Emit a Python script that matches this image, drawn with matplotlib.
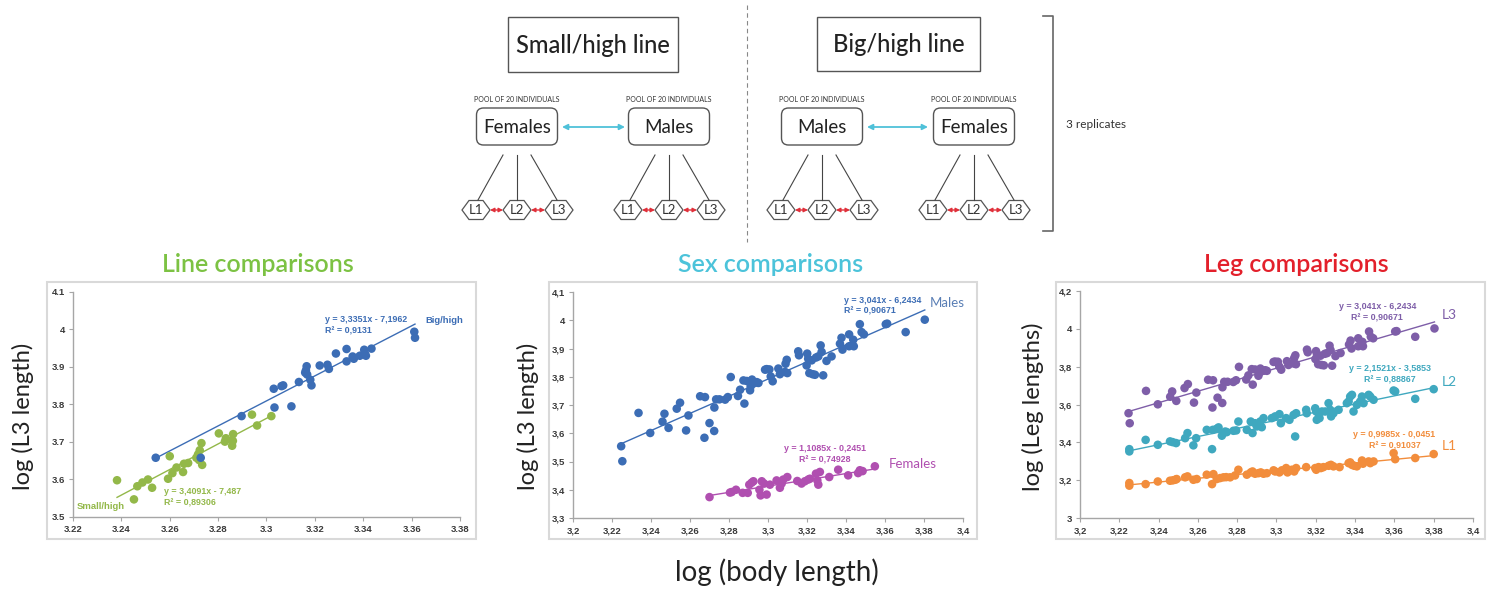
import numpy as np
import matplotlib
matplotlib.use('Agg')
import matplotlib.pyplot as plt
from matplotlib.patches import Rectangle, FancyBboxPatch, Polygon

plt.rcParams['font.family'] = ['Lato', 'DejaVu Sans']
SMALL_FONT = ['Liberation Sans', 'DejaVu Sans']

W, H = 1496, 593

# ---- Line comparisons: log body length vs log L3 length ----
big_x = [3.2542, 3.2728, 3.2897, 3.3030, 3.3033, 3.3062, 3.3069, 3.3103, 3.3134, 3.3166,
         3.3163, 3.3160, 3.3168, 3.3181, 3.3186, 3.3220, 3.3252, 3.3258, 3.3287, 3.3331,
         3.3331, 3.3356, 3.3361, 3.3386, 3.3404, 3.3407, 3.3411, 3.3434, 3.3611, 3.3614]
big_y = [3.658, 3.658, 3.769, 3.842, 3.792, 3.849, 3.851, 3.795, 3.860, 3.902,
         3.891, 3.885, 3.880, 3.866, 3.851, 3.904, 3.906, 3.895, 3.936, 3.948,
         3.915, 3.928, 3.922, 3.930, 3.946, 3.936, 3.930, 3.949, 3.994, 3.978]
small_x = [3.2382, 3.2452, 3.2466, 3.2487, 3.2510, 3.2527, 3.2593, 3.2600, 3.2611, 3.2628,
           3.2655, 3.2659, 3.2676, 3.2710, 3.2717, 3.2724, 3.2721, 3.2731, 3.2734, 3.2803,
           3.2828, 3.2832, 3.2858, 3.2861, 3.2862, 3.2940, 3.2961, 3.3020]
small_y = [3.598, 3.547, 3.582, 3.592, 3.600, 3.578, 3.602, 3.662, 3.617, 3.632,
           3.620, 3.642, 3.644, 3.658, 3.667, 3.678, 3.652, 3.697, 3.639, 3.723,
           3.701, 3.710, 3.690, 3.703, 3.721, 3.773, 3.744, 3.769]
big_fit = [3.3351, -7.1962]
small_fit = [3.4091, -7.487]

# ---- Sex comparisons ----
males_x = [3.2247, 3.2253, 3.2336, 3.2396, 3.2459, 3.2469, 3.2490, 3.2532, 3.2549, 3.2580,
           3.2592, 3.2652, 3.2674, 3.2677, 3.2700, 3.2724, 3.2725, 3.2734, 3.2751, 3.2780,
           3.2794, 3.2809, 3.2846, 3.2857, 3.2879, 3.2874, 3.2891, 3.2908, 3.2911, 3.2918,
           3.2925, 3.2933, 3.2942, 3.2951, 3.2985, 3.2993, 3.3007, 3.3014, 3.3024, 3.3053,
           3.3061, 3.3087, 3.3090, 3.3096, 3.3099, 3.3155, 3.3159, 3.3198, 3.3201, 3.3206,
           3.3212, 3.3224, 3.3229, 3.3241, 3.3246, 3.3258, 3.3270, 3.3275, 3.3283, 3.3300,
           3.3326, 3.3369, 3.3377, 3.3382, 3.3416, 3.3416, 3.3437, 3.3440, 3.3471, 3.3480,
           3.3492, 3.3604, 3.3611, 3.3706, 3.3804]
males_y = [3.554, 3.501, 3.672, 3.601, 3.641, 3.669, 3.619, 3.687, 3.708, 3.610,
           3.663, 3.731, 3.584, 3.728, 3.636, 3.608, 3.691, 3.720, 3.720, 3.719,
           3.728, 3.799, 3.732, 3.754, 3.705, 3.787, 3.785, 3.752, 3.766, 3.790,
           3.776, 3.779, 3.781, 3.778, 3.825, 3.827, 3.826, 3.801, 3.784, 3.829,
           3.809, 3.817, 3.846, 3.860, 3.813, 3.890, 3.876, 3.840, 3.882, 3.864,
           3.813, 3.858, 3.809, 3.807, 3.868, 3.872, 3.911, 3.888, 3.805, 3.856,
           3.872, 3.917, 3.938, 3.896, 3.950, 3.908, 3.931, 3.908, 3.986, 3.958,
           3.950, 3.986, 3.988, 3.958, 4.002]
females_x = [3.2700, 3.2805, 3.2814, 3.2836, 3.2870, 3.2896, 3.2904, 3.2916, 3.2925, 3.2956,
             3.2962, 3.2968, 3.2980, 3.2993, 3.3010, 3.3044, 3.3061, 3.3070, 3.3078, 3.3099,
             3.3150, 3.3172, 3.3189, 3.3206, 3.3215, 3.3246, 3.3253, 3.3258, 3.3266, 3.3314,
             3.3360, 3.3411, 3.3462, 3.3471, 3.3485, 3.3548]
females_y = [3.374, 3.390, 3.392, 3.400, 3.389, 3.389, 3.418, 3.425, 3.430, 3.400,
             3.380, 3.430, 3.422, 3.383, 3.418, 3.433, 3.407, 3.422, 3.436, 3.445,
             3.431, 3.422, 3.430, 3.436, 3.439, 3.457, 3.433, 3.418, 3.463, 3.445,
             3.471, 3.451, 3.459, 3.469, 3.466, 3.483]
males_fit = [3.041, -6.2434]
females_fit = [1.1085, -0.2451]

# ---- Leg comparisons (L3 = the male L3 data) ----
l2_x = [3.2251, 3.2251, 3.2334, 3.2396, 3.2458, 3.2472, 3.2489, 3.2535, 3.2547, 3.2577,
        3.2591, 3.2645, 3.2672, 3.2676, 3.2696, 3.2705, 3.2722, 3.2730, 3.2739, 3.2747,
        3.2781, 3.2795, 3.2806, 3.2849, 3.2869, 3.2878, 3.2891, 3.2900, 3.2908, 3.2917,
        3.2925, 3.2934, 3.2976, 3.2993, 3.3015, 3.3022, 3.3049, 3.3066, 3.3087, 3.3100,
        3.3095, 3.3151, 3.3154, 3.3197, 3.3202, 3.3205, 3.3214, 3.3219, 3.3231, 3.3248,
        3.3265, 3.3273, 3.3278, 3.3290, 3.3316, 3.3358, 3.3367, 3.3375, 3.3384, 3.3392,
        3.3409, 3.3426, 3.3435, 3.3443, 3.3469, 3.3477, 3.3494, 3.3596, 3.3604, 3.3706,
        3.3800]
l2_y = [3.364, 3.352, 3.413, 3.387, 3.405, 3.401, 3.396, 3.422, 3.449, 3.384,
        3.422, 3.466, 3.364, 3.466, 3.472, 3.479, 3.435, 3.449, 3.457, 3.454,
        3.461, 3.463, 3.510, 3.466, 3.510, 3.449, 3.501, 3.484, 3.496, 3.510,
        3.480, 3.528, 3.528, 3.537, 3.549, 3.501, 3.528, 3.519, 3.545, 3.554,
        3.431, 3.572, 3.554, 3.580, 3.563, 3.519, 3.554, 3.528, 3.563, 3.563,
        3.607, 3.572, 3.537, 3.554, 3.572, 3.607, 3.616, 3.642, 3.651, 3.563,
        3.598, 3.616, 3.642, 3.607, 3.651, 3.642, 3.625, 3.674, 3.669, 3.630,
        3.681]
l1_x = [3.2251, 3.2251, 3.2334, 3.2396, 3.2458, 3.2472, 3.2484, 3.2492, 3.2535, 3.2547,
        3.2577, 3.2594, 3.2645, 3.2672, 3.2679, 3.2696, 3.2713, 3.2730, 3.2744, 3.2764,
        3.2789, 3.2806, 3.2849, 3.2869, 3.2878, 3.2891, 3.2908, 3.2920, 3.2934, 3.2951,
        3.2985, 3.2993, 3.3015, 3.3027, 3.3049, 3.3056, 3.3078, 3.3090, 3.3100, 3.3151,
        3.3197, 3.3202, 3.3214, 3.3226, 3.3239, 3.3265, 3.3277, 3.3290, 3.3321, 3.3367,
        3.3375, 3.3384, 3.3396, 3.3409, 3.3435, 3.3440, 3.3469, 3.3477, 3.3494, 3.3596,
        3.3604, 3.3706, 3.3800]
l1_y = [3.185, 3.171, 3.179, 3.193, 3.197, 3.199, 3.202, 3.206, 3.215, 3.220,
        3.202, 3.206, 3.229, 3.179, 3.232, 3.206, 3.211, 3.215, 3.216, 3.215,
        3.225, 3.255, 3.229, 3.241, 3.246, 3.234, 3.237, 3.241, 3.234, 3.237,
        3.252, 3.246, 3.241, 3.252, 3.264, 3.241, 3.255, 3.246, 3.264, 3.269,
        3.264, 3.255, 3.269, 3.264, 3.269, 3.276, 3.281, 3.273, 3.269, 3.290,
        3.294, 3.281, 3.276, 3.273, 3.304, 3.287, 3.299, 3.290, 3.299, 3.343,
        3.311, 3.317, 3.338]
l3_fit = [3.041, -6.2434]
l2_fit = [2.1521, -3.5853]
l1_fit = [0.9985, -0.0451]

BLUE = '#3c6db5'
GREEN = '#93b849'
MAGENTA = '#b04fb0'
PURPLE = '#7e5ea8'
TEAL = '#3fa8bf'
ORANGE = '#f28d3c'


def px_axes(fig, left, top, right, bottom):
    return fig.add_axes([left / W, 1 - bottom / H, (right - left) / W, (bottom - top) / H])


def tick_str(v, comma):
    s = '%g' % round(v, 3)
    return s.replace('.', ',') if comma else s


def panel(fig, box, xticks, yticks, comma):
    ax = px_axes(fig, *box)
    ax.patch.set_alpha(0)
    ax.set_xlim(xticks[0], xticks[-1])
    ax.set_ylim(yticks[0], yticks[-1])
    ax.set_xticks(xticks)
    ax.set_yticks(yticks)
    ax.set_xticklabels([tick_str(v, comma) for v in xticks], fontweight='bold', family=SMALL_FONT)
    ax.set_yticklabels([tick_str(v, comma) for v in yticks], fontweight='bold', family=SMALL_FONT)
    for side in ['top', 'right']:
        ax.spines[side].set_visible(False)
    for side in ['left', 'bottom']:
        ax.spines[side].set_color('#a6a6a6')
        ax.spines[side].set_linewidth(1)
    ax.tick_params(direction='out', length=3, width=0.8, color='#a6a6a6',
                   labelsize=6.8, labelcolor='#3a3a3a', pad=3)
    return ax


def series(ax, x, y, fit, color):
    ax.scatter(x, y, s=38, color=color, edgecolors='none', zorder=3)
    xs = np.array([min(x), max(x)])
    ax.plot(xs, fit[0] * xs + fit[1], color=color, lw=1, zorder=2)


def eq_text(fit):
    s = 'y = %gx - %g' % (fit[0], -fit[1])
    return s.replace('.', ',')


def note(ax, x, y, s, color, ha='left', size=6.4, weight='bold', family=SMALL_FONT):
    ax.text(x, y, s, color=color, fontsize=size, va='center', ha=ha, fontweight=weight, family=family)


fig = plt.figure(figsize=(W / 100, H / 100), dpi=100)

# overlay in pixel coordinates for the diagram, titles and frames
ov = fig.add_axes([0, 0, 1, 1])
ov.set_xlim(0, W)
ov.set_ylim(H, 0)
ov.axis('off')

EDGE = '#555555'

# top boxes
for (l, t, r, b, label) in [(508, 17, 678, 72, 'Small/high line'), (817, 17, 980, 71, 'Big/high line')]:
    ov.add_patch(Rectangle((l, t), r - l, b - t, fill=False, ec=EDGE, lw=1))
    ov.text((l + r) / 2, (t + b) / 2 + 1, label, ha='center', va='center', fontsize=17,
            color='#222222', fontweight='medium')

# dashed separator and bracket
ov.plot([747, 747], [5, 242], color='#888888', lw=0.8, dashes=(4, 3))
ov.plot([1043, 1053, 1053, 1043], [16, 16, 231, 231], color='#666666', lw=1.2)
ov.text(1066, 125, '3 replicates', ha='left', va='center', fontsize=8.5, color='#333333')


def group(cx, label):
    cy = 126.5
    ov.text(cx, 100, 'POOL OF 20 INDIVIDUALS', ha='center', va='center', fontsize=5, color='#333333')
    ov.add_patch(FancyBboxPatch((cx - 40.5, cy - 18.5), 81, 37,
                                boxstyle='round,pad=0,rounding_size=7',
                                fill=False, ec=EDGE, lw=1))
    ov.text(cx, cy + 1, label, ha='center', va='center', fontsize=13.5, color='#222222')
    hex_dx = [-41, 0, 42]
    start_dx = [-14, 0, 14]
    end_dx = [-39, 0, 40]
    hy = 210
    hw, hh = 28, 19
    for sdx, edx in zip(start_dx, end_dx):
        ov.plot([cx + sdx, cx + edx], [155, 200], color='#444444', lw=0.8)
    for i, dx in enumerate(hex_dx):
        hx = cx + dx
        pts = [(hx - hw / 2, hy), (hx - hw / 4, hy - hh / 2), (hx + hw / 4, hy - hh / 2),
               (hx + hw / 2, hy), (hx + hw / 4, hy + hh / 2), (hx - hw / 4, hy + hh / 2)]
        ov.add_patch(Polygon(pts, closed=True, fill=False, ec=EDGE, lw=0.9))
        ov.text(hx, hy + 0.5, 'L%d' % (i + 1), ha='center', va='center', fontsize=9.5, color='#333333')
    for a, b in [(hex_dx[0], hex_dx[1]), (hex_dx[1], hex_dx[2])]:
        ov.annotate('', xy=(cx + b - hw / 2, hy), xytext=(cx + a + hw / 2, hy),
                    arrowprops=dict(arrowstyle='<|-|>', color='#e0303a', lw=1.0,
                                    mutation_scale=6, shrinkA=0, shrinkB=0))


for cx, label in [(517, 'Females'), (669, 'Males'), (822, 'Males'), (974, 'Females')]:
    group(cx, label)

for x0, x1 in [(562, 625), (867, 928)]:
    ov.annotate('', xy=(x1, 127), xytext=(x0, 127),
                arrowprops=dict(arrowstyle='<|-|>', color='#4fc1d9', lw=1.3,
                                mutation_scale=8, shrinkA=0, shrinkB=0))

# panel frames and titles
for l, t, r, b in [(47, 282, 476, 539), (549, 282, 977, 539), (1056, 282, 1485, 539)]:
    ov.add_patch(Rectangle((l, t), r - l, b - t, fill=False, ec='#d9d9d9', lw=1.5))

ov.text(258, 264, 'Line comparisons', ha='center', va='center', fontsize=18, color='#7cc243', fontweight='semibold')
ov.text(771, 264, 'Sex comparisons', ha='center', va='center', fontsize=18, color='#4cc3da', fontweight='semibold')
ov.text(1296, 264, 'Leg comparisons', ha='center', va='center', fontsize=18, color='#e3202b', fontweight='semibold')

ov.text(23, 416, 'log (L3 length)', rotation=90, ha='center', va='center', fontsize=17, color='#222222')
ov.text(528, 416, 'log (L3 length)', rotation=90, ha='center', va='center', fontsize=17, color='#222222')
ov.text(1033, 407, 'log (Leg lengths)', rotation=90, ha='center', va='center', fontsize=17, color='#222222')
ov.text(777, 572, 'log (body length)', ha='center', va='center', fontsize=20, color='#222222')

# panel 1
ax1 = panel(fig, (73, 292, 460, 517), np.round(np.arange(3.22, 3.381, 0.02), 2),
            np.round(np.arange(3.5, 4.101, 0.1), 1), False)
series(ax1, small_x, small_y, small_fit, GREEN)
series(ax1, big_x, big_y, big_fit, BLUE)
note(ax1, 3.3241, 4.026, eq_text(big_fit), BLUE)
note(ax1, 3.3241, 3.996, 'R² = 0,9131', BLUE)
note(ax1, 3.3655, 4.023, 'Big/high', BLUE, size=6.8)
note(ax1, 3.2577, 3.569, eq_text(small_fit), GREEN)
note(ax1, 3.2577, 3.538, 'R² = 0,89306', GREEN)
note(ax1, 3.2214, 3.528, 'Small/high', GREEN, size=6.8)

# panel 2
ax2 = panel(fig, (573, 292, 963, 518), np.round(np.arange(3.2, 3.401, 0.02), 2),
            np.round(np.arange(3.3, 4.101, 0.1), 1), True)
series(ax2, males_x, males_y, males_fit, BLUE)
series(ax2, females_x, females_y, females_fit, MAGENTA)
note(ax2, 3.3389, 4.070, eq_text(males_fit), BLUE)
note(ax2, 3.3389, 4.032, 'R² = 0,90671', BLUE)
note(ax2, 3.3830, 4.062, 'Males', '#5a7fb5', size=9.5, weight='normal', family=None)
note(ax2, 3.3290, 3.545, eq_text(females_fit), MAGENTA, ha='center')
note(ax2, 3.3290, 3.506, 'R² = 0,74928', MAGENTA, ha='center')
note(ax2, 3.3621, 3.492, 'Females', MAGENTA, size=9.5, weight='normal', family=None)

# panel 3
ax3 = panel(fig, (1080, 291, 1473, 518), np.round(np.arange(3.2, 3.401, 0.02), 2),
            np.round(np.arange(3.0, 4.201, 0.2), 1), True)
series(ax3, l1_x, l1_y, l1_fit, ORANGE)
series(ax3, l2_x, l2_y, l2_fit, TEAL)
series(ax3, males_x, males_y, l3_fit, PURPLE)
note(ax3, 3.3513, 4.117, eq_text(l3_fit), PURPLE, ha='center')
note(ax3, 3.3513, 4.059, 'R² = 0,90671', PURPLE, ha='center')
note(ax3, 3.3842, 4.073, 'L3', PURPLE, size=10, weight='normal', family=None)
note(ax3, 3.3576, 3.788, eq_text(l2_fit), TEAL, ha='center')
note(ax3, 3.3576, 3.730, 'R² = 0,88867', TEAL, ha='center')
note(ax3, 3.3842, 3.718, 'L2', TEAL, size=10, weight='normal', family=None)
note(ax3, 3.3600, 3.440, eq_text(l1_fit), ORANGE, ha='center')
note(ax3, 3.3600, 3.378, 'R² = 0,91037', ORANGE, ha='center')
note(ax3, 3.3842, 3.378, 'L1', ORANGE, size=10, weight='normal', family=None)

plt.savefig('out.png', dpi=100)
